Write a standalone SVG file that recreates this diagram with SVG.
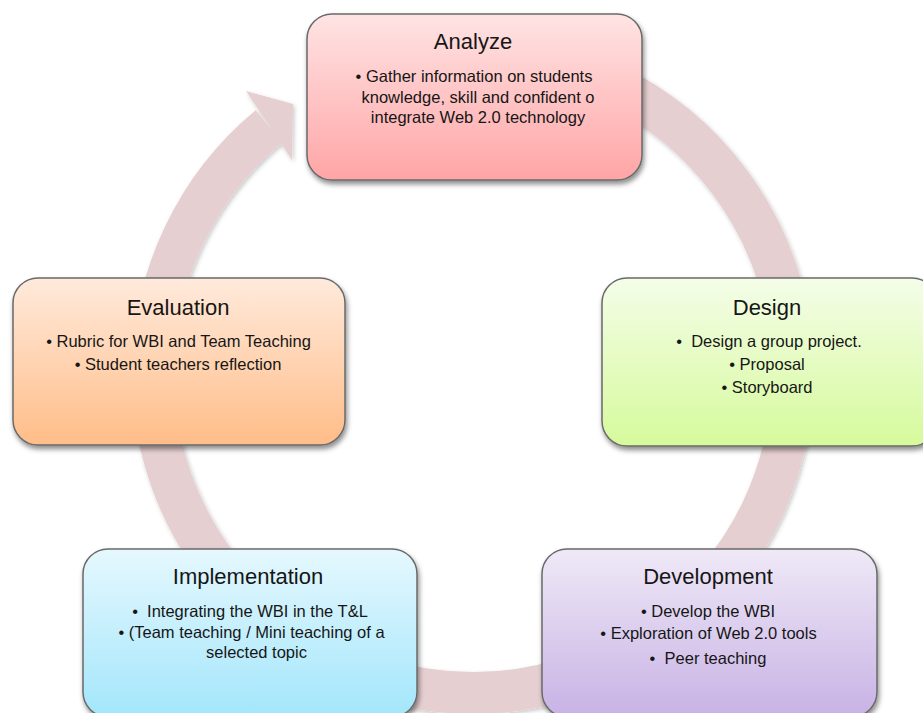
<svg xmlns="http://www.w3.org/2000/svg" width="923" height="713" viewBox="0 0 923 713">
  <defs>
    <style>
      .title { font-family: "Liberation Sans", Arial, sans-serif; font-size: 22px; fill: #161616; text-anchor: middle; }
      .body { font-family: "Liberation Sans", Arial, sans-serif; font-size: 16.5px; fill: #161616; text-anchor: middle; white-space: pre; }
      .box { stroke: #6a6a6a; stroke-width: 1.5; filter: url(#boxShadow); }
      .ring { fill: none; stroke: #E6CFD1; stroke-width: 42; stroke-linecap: butt; }
      .ringHead { fill: #E6CFD1; }
    </style>
    <filter id="boxShadow" x="-10%" y="-10%" width="125%" height="130%">
      <feDropShadow dx="1.5" dy="3.5" stdDeviation="2.5" flood-color="#000" flood-opacity="0.45"/>
    </filter>
    <filter id="ringShadow" x="-10%" y="-10%" width="125%" height="125%">
      <feDropShadow dx="1.5" dy="2" stdDeviation="2" flood-color="#000" flood-opacity="0.22"/>
    </filter>
    <linearGradient id="gRed" x1="0" y1="0" x2="0" y2="1">
      <stop offset="0" stop-color="#FFE4E4"/>
      <stop offset="1" stop-color="#FFA5A6"/>
    </linearGradient>
    <linearGradient id="gGreen" x1="0" y1="0" x2="0" y2="1">
      <stop offset="0" stop-color="#F4FDE8"/>
      <stop offset="1" stop-color="#D6FA9C"/>
    </linearGradient>
    <linearGradient id="gOrange" x1="0" y1="0" x2="0" y2="1">
      <stop offset="0" stop-color="#FFEADC"/>
      <stop offset="1" stop-color="#FFBD88"/>
    </linearGradient>
    <linearGradient id="gBlue" x1="0" y1="0" x2="0" y2="1">
      <stop offset="0" stop-color="#E5F8FE"/>
      <stop offset="1" stop-color="#A3E6FB"/>
    </linearGradient>
    <linearGradient id="gPurple" x1="0" y1="0" x2="0" y2="1">
      <stop offset="0" stop-color="#EFE9F7"/>
      <stop offset="1" stop-color="#C8B2E5"/>
    </linearGradient>
  </defs>

  <rect x="0" y="0" width="923" height="713" fill="#FFFFFF"/>

  <!-- circular arrow running clockwise behind the stages -->
  <g id="connectors" filter="url(#ringShadow)">
    <path class="ring" d="M 473 53 A 320 320 0 1 1 269 126.4"/>
    <polygon class="ringHead" points="246,91 293,104 292,160"/>
  </g>

  <g id="node-analyze">
    <rect class="box" x="307" y="14" width="335" height="166" rx="25" ry="25" fill="url(#gRed)"/>
    <text class="title" x="473" y="49">Analyze</text>
    <text class="body" x="474" y="82">• Gather information on students</text>
    <text class="body" x="478" y="102.5">knowledge, skill and confident o</text>
    <text class="body" x="478" y="123">integrate Web 2.0 technology</text>
  </g>

  <g id="node-design">
    <rect class="box" x="602" y="278" width="335" height="168" rx="25" ry="25" fill="url(#gGreen)"/>
    <text class="title" x="767" y="315">Design</text>
    <text class="body" x="769" y="347">•  Design a group project.</text>
    <text class="body" x="767" y="370">• Proposal</text>
    <text class="body" x="767" y="393">• Storyboard</text>
  </g>

  <g id="node-development">
    <rect class="box" x="542" y="549" width="335" height="168" rx="25" ry="25" fill="url(#gPurple)"/>
    <text class="title" x="708" y="584">Development</text>
    <text class="body" x="708" y="617">• Develop the WBI</text>
    <text class="body" x="708.5" y="639">• Exploration of Web 2.0 tools</text>
    <text class="body" x="708" y="664">•  Peer teaching</text>
  </g>

  <g id="node-implementation">
    <rect class="box" x="83" y="549" width="334" height="168" rx="25" ry="25" fill="url(#gBlue)"/>
    <text class="title" x="248" y="584">Implementation</text>
    <text class="body" x="250" y="617">•  Integrating the WBI in the T&amp;L</text>
    <text class="body" x="251.5" y="638">• (Team teaching / Mini teaching of a</text>
    <text class="body" x="256.5" y="658">selected topic</text>
  </g>

  <g id="node-evaluation">
    <rect class="box" x="13" y="278" width="332" height="167" rx="25" ry="25" fill="url(#gOrange)"/>
    <text class="title" x="178" y="315">Evaluation</text>
    <text class="body" x="178.5" y="347">• Rubric for WBI and Team Teaching</text>
    <text class="body" x="178" y="370">• Student teachers reflection</text>
  </g>
</svg>
